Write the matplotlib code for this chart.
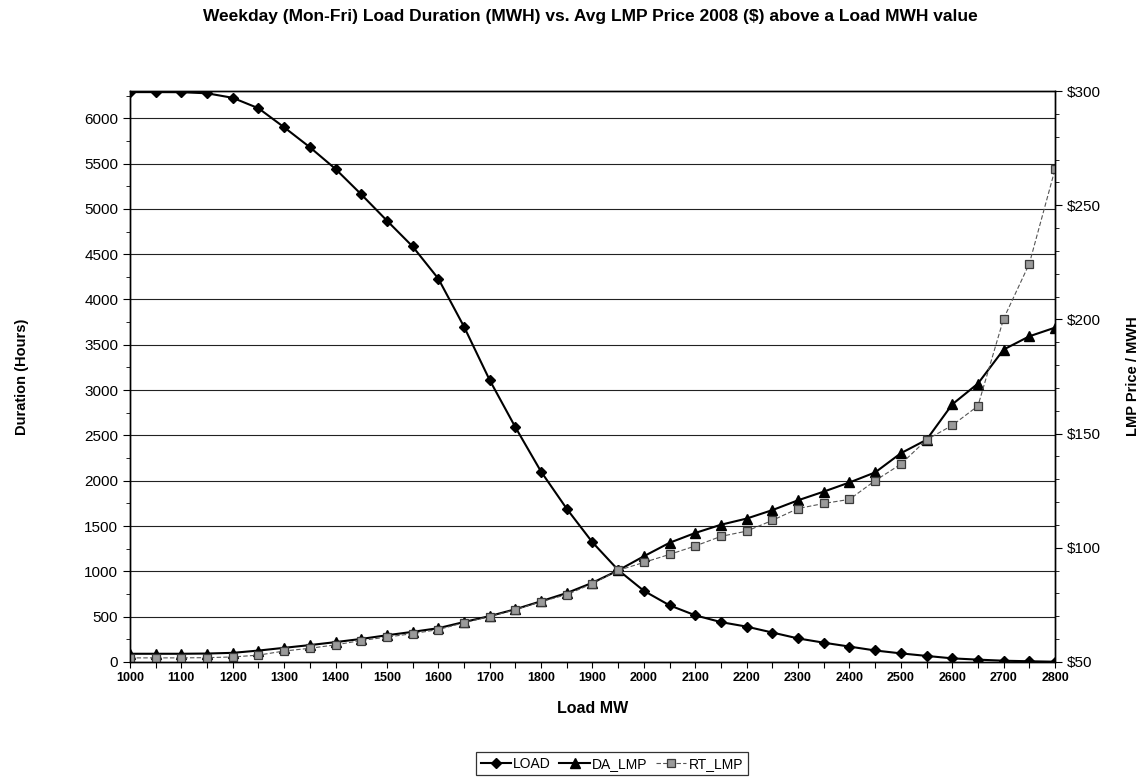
import matplotlib
matplotlib.use("Agg")
import matplotlib.pyplot as plt
from matplotlib.ticker import MultipleLocator, FuncFormatter

plt.rcParams['font.family'] = ['Liberation Sans', 'DejaVu Sans']

load_mw = list(range(1000, 2801, 50))

load_hours = [6288, 6288, 6287, 6275, 6225, 6110, 5900, 5680, 5440, 5160,
              4870, 4585, 4230, 3700, 3110, 2590, 2100, 1690, 1320, 1015,
              785, 625, 515, 440, 390, 325, 260, 213, 170, 127,
              95, 67, 40, 26, 14, 8, 3]

da_lmp = [53.6, 53.6, 53.6, 53.7, 54.0, 55.0, 56.2, 57.4, 58.7, 60.1,
          61.7, 63.2, 64.8, 67.5, 70.1, 73.1, 76.6, 80.2, 84.7, 90.1,
          96.3, 102.2, 106.5, 110.1, 112.8, 116.5, 120.8, 124.6, 128.6, 133.0,
          141.4, 147.3, 162.8, 171.9, 186.8, 192.6, 196.4]

rt_lmp = [51.8, 51.8, 51.8, 51.9, 52.2, 53.0, 54.8, 56.0, 57.5, 59.4,
          60.9, 62.4, 64.2, 67.2, 69.9, 72.9, 76.4, 79.5, 84.3, 90.1,
          93.6, 97.1, 100.8, 105.0, 107.3, 112.0, 117.2, 119.4, 121.2, 129.4,
          136.6, 147.3, 153.6, 162.1, 200.3, 224.4, 265.7]

fig = plt.figure(figsize=(11.48, 7.8), dpi=100)
ax = fig.add_axes([0.1132, 0.1513, 0.8058, 0.732])
ax2 = ax.twinx()

# duration curve on the left axis
l1, = ax.plot(load_mw, load_hours, color="black", lw=1.5, marker="D", ms=5.5,
              markerfacecolor="black", markeredgecolor="black", label="LOAD", zorder=3)

# prices on the right axis
l2, = ax2.plot(load_mw, da_lmp, color="black", lw=1.5, marker="^", ms=6.5,
               markerfacecolor="black", markeredgecolor="black", label="DA_LMP")
l3, = ax2.plot(load_mw, rt_lmp, color="#555555", lw=0.8, ls=(0, (4, 2)), marker="s", ms=5.5,
               markerfacecolor="#9a9a9a", markeredgecolor="#3a3a3a", markeredgewidth=0.9,
               label="RT_LMP")

ax.set_xlim(1000, 2800)
ax.set_ylim(0, 6300)
ax2.set_ylim(50, 300)

ax.xaxis.set_major_locator(MultipleLocator(100))
ax.xaxis.set_minor_locator(MultipleLocator(50))
ax.yaxis.set_major_locator(MultipleLocator(500))
ax.yaxis.set_minor_locator(MultipleLocator(250))
ax2.yaxis.set_major_locator(MultipleLocator(50))
ax2.yaxis.set_minor_locator(MultipleLocator(10))
ax2.yaxis.set_major_formatter(FuncFormatter(lambda v, p: f"${v:.0f}"))

ax.grid(axis="y", which="major", color="#222222", lw=0.8)
ax.set_axisbelow(True)

for a in (ax, ax2):
    for s in a.spines.values():
        s.set_color("black")
        s.set_linewidth(1.0)

ax.tick_params(axis="x", which="both", direction="out", length=4, width=0.8,
               labelsize=9)
for t in ax.get_xticklabels():
    t.set_fontweight("bold")
ax.tick_params(axis="y", which="major", direction="out", length=5, width=0.8, labelsize=11)
ax.tick_params(axis="y", which="minor", direction="out", length=3, width=0.6)
ax2.tick_params(axis="y", which="major", direction="out", length=5, width=0.8, labelsize=11)
ax2.tick_params(axis="y", which="minor", direction="out", length=3, width=0.6)

ax.set_xlabel("Load MW", fontsize=11.5, fontweight="bold", labelpad=12)
ax.set_ylabel("Duration (Hours)", fontsize=10.5, fontweight="bold", labelpad=40)
ax2.set_ylabel("LMP Price / MWH", fontsize=10.5, fontweight="bold", labelpad=18)

fig.suptitle("Weekday (Mon-Fri) Load Duration (MWH) vs. Avg LMP Price 2008 ($) above a Load MWH value",
             x=0.514, y=0.988, fontsize=12.5, fontweight="bold")

leg = fig.legend(handles=[l1, l2, l3], loc="center", bbox_to_anchor=(0.533, 0.021),
                 ncol=3, fontsize=10, frameon=True, fancybox=False, handlelength=2.2,
                 handletextpad=0.15, columnspacing=0.6, borderpad=0.35)
leg.get_frame().set_edgecolor("black")
leg.get_frame().set_linewidth(0.9)

fig.savefig("out.png", dpi=100)
